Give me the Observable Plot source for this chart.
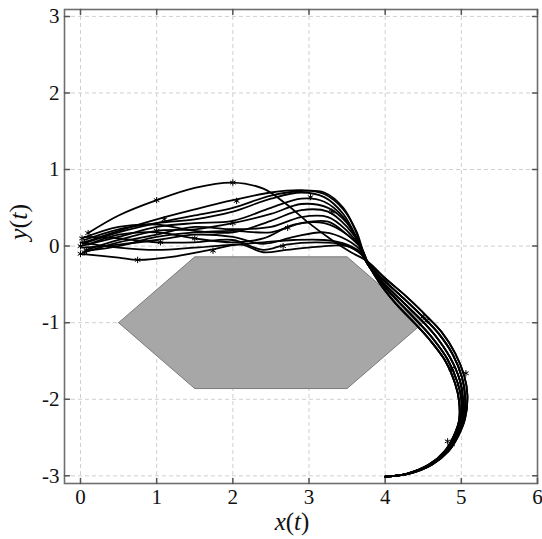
<!DOCTYPE html>
<html><head><meta charset="utf-8">
<script src="https://cdn.jsdelivr.net/npm/d3@7"></script>
<script src="https://cdn.jsdelivr.net/npm/@observablehq/plot@0.6"></script>
<style>
body{margin:0;background:#fff}
svg{display:block}
</style>
</head><body><div id="chart"></div>
<script>
const xTicks = [0, 1, 2, 3, 4, 5, 6];
const yTicks = [-3, -2, -1, 0, 1, 2, 3];
const xDomain = [-0.21, 6.0];
const yDomain = [-3.1, 3.09];

const obstacle = [[0.5,-1],[1.5,-0.14],[3.5,-0.14],[4.5,-1],[3.5,-1.86],[1.5,-1.86],[0.5,-1]];

// left / upper parts of the trajectories (start -> convergence point)
const head1  = [[0.1,0.17],[0.5,0.4],[1.0,0.6],[1.5,0.76],[2.0,0.83],[2.4,0.75],[2.7,0.55],[3.0,0.3],[3.3,0.08],[3.55,-0.08],[3.76,-0.22]];
const head2  = [[0.05,0.05],[0.5,0.2],[1.0,0.35],[1.5,0.48],[2.0,0.6],[2.5,0.7],[2.9,0.73],[3.2,0.68],[3.45,0.48],[3.62,0.2],[3.76,-0.2]];
const head3  = [[0.05,0.08],[0.5,0.22],[1.0,0.3],[1.5,0.35],[2.0,0.45],[2.5,0.62],[2.9,0.7],[3.2,0.64],[3.45,0.42],[3.62,0.12],[3.76,-0.2]];
const head4  = [[0.0,0.0],[0.5,0.12],[1.0,0.25],[1.5,0.3],[2.0,0.33],[2.5,0.5],[2.9,0.62],[3.2,0.58],[3.45,0.38],[3.63,0.08],[3.76,-0.22]];
const head5  = [[0.08,-0.05],[0.5,0.08],[1.0,0.2],[1.5,0.22],[2.0,0.3],[2.5,0.42],[2.9,0.55],[3.25,0.5],[3.5,0.3],[3.65,0.05],[3.76,-0.22]];
const head6  = [[0.02,0.1],[0.5,0.25],[1.0,0.28],[1.5,0.2],[2.0,0.18],[2.5,0.33],[2.9,0.47],[3.25,0.45],[3.5,0.25],[3.68,0.0],[3.76,-0.2]];
const head7  = [[0.05,-0.08],[0.5,0.05],[1.0,0.15],[1.5,0.25],[2.0,0.22],[2.5,0.25],[2.9,0.38],[3.25,0.38],[3.5,0.2],[3.68,-0.02],[3.77,-0.22]];
const head8  = [[0.1,0.02],[0.5,0.15],[1.0,0.18],[1.5,0.1],[2.0,0.05],[2.4,0.1],[2.8,0.28],[3.2,0.3],[3.5,0.15],[3.7,-0.05],[3.77,-0.2]];
const head9  = [[0.02,-0.02],[0.5,0.02],[1.0,0.08],[1.5,0.15],[2.0,0.12],[2.4,0.03],[2.8,0.12],[3.2,0.18],[3.5,0.08],[3.7,-0.08],[3.78,-0.22]];
const head10 = [[0.05,0.12],[0.5,0.1],[1.0,0.05],[1.5,0.05],[2.0,0.08],[2.4,-0.05],[2.7,0.02],[3.1,0.05],[3.45,0.02],[3.68,-0.1],[3.78,-0.2]];
const head11 = [[0.0,-0.1],[0.5,-0.15],[0.75,-0.18],[1.2,-0.14],[1.7,-0.05],[2.1,0.02],[2.4,-0.08],[2.7,-0.05],[3.1,-0.01],[3.5,0.0],[3.7,-0.12],[3.78,-0.22]];
const head12 = [[0.0,0.05],[0.5,-0.02],[1.0,-0.05],[1.5,-0.02],[2.0,0.02],[2.4,0.05],[2.8,0.08],[3.2,0.08],[3.5,0.02],[3.72,-0.12],[3.78,-0.2]];
const head13 = [[0.03,0.03],[0.5,0.18],[1.0,0.3],[1.5,0.4],[2.0,0.5],[2.5,0.66],[2.9,0.72],[3.2,0.7],[3.45,0.5],[3.62,0.18],[3.76,-0.2]];
const head14 = [[0.1,-0.06],[0.5,0.0],[1.0,0.12],[1.5,0.18],[2.0,0.2],[2.5,0.18],[2.9,0.3],[3.25,0.32],[3.5,0.15],[3.7,-0.05],[3.77,-0.22]];

// right / lower parts (convergence point -> goal at (4,-3))
const tail1 = [[3.77,-0.2],[4.0,-0.42],[4.28,-0.66],[4.55,-0.92],[4.74,-1.12],[4.92,-1.4],[5.04,-1.7],[5.08,-1.95],[5.05,-2.25],[4.96,-2.48],[4.83,-2.68],[4.62,-2.85],[4.32,-2.97],[4.0,-3.01]];
const tail2 = [[3.76,-0.21],[3.98,-0.44],[4.24,-0.68],[4.52,-0.95],[4.7,-1.14],[4.89,-1.42],[5.01,-1.72],[5.05,-1.97],[5.03,-2.26],[4.95,-2.48],[4.82,-2.68],[4.61,-2.85],[4.31,-2.97],[4.0,-3.01]];
const tail3 = [[3.76,-0.22],[3.96,-0.46],[4.2,-0.7],[4.48,-0.97],[4.66,-1.17],[4.85,-1.45],[4.98,-1.75],[5.02,-1.98],[5.01,-2.27],[4.93,-2.48],[4.8,-2.68],[4.6,-2.85],[4.3,-2.97],[4.0,-3.01]];
const tail4 = [[3.77,-0.23],[3.95,-0.48],[4.17,-0.72],[4.44,-1.0],[4.62,-1.2],[4.82,-1.48],[4.95,-1.78],[5.0,-2.0],[4.99,-2.27],[4.92,-2.48],[4.79,-2.68],[4.59,-2.85],[4.3,-2.97],[4.0,-3.01]];
const tail5 = [[3.78,-0.24],[3.94,-0.5],[4.14,-0.75],[4.41,-1.03],[4.59,-1.23],[4.79,-1.5],[4.92,-1.8],[4.97,-2.02],[4.97,-2.28],[4.9,-2.48],[4.78,-2.68],[4.58,-2.85],[4.29,-2.97],[4.0,-3.01]];

const heads = [head1, head2, head3, head4, head5, head6, head7, head8, head9, head10, head11, head12, head13, head14];
const tails = [tail1, tail2, tail3, tail4, tail5];
const tailOf = [0, 0, 1, 1, 2, 2, 3, 3, 4, 2, 4, 3, 1, 4];

const markers = [[0.1,0.17],[1.0,0.6],[2.0,0.83],[1.1,0.35],[2.05,0.59],[3.02,0.64],[0.75,-0.18],[2.72,0.24],[1.74,-0.06],[2.66,0.0],
  [0.05,0.05],[0.0,0.0],[0.02,0.1],[0.05,-0.08],[0.08,-0.05],[0.0,-0.1],[1.0,0.2],[1.5,0.1],[2.0,0.3],[1.05,0.05],
  [4.5,-0.92],[4.55,-0.97],[4.87,-1.6],[5.06,-1.66],[4.82,-2.55],[4.88,-2.59],[3.3,0.45]];

const rows = [];
heads.forEach((h, i) => {
  const pts = h.slice(0, -1).concat(tails[tailOf[i]]);
  pts.forEach(([x, y]) => rows.push({id: i, x, y}));
});

const tickShape = {draw(ctx, l) { ctx.moveTo(0, 0); ctx.lineTo(0, -l); }};
const fmt = d => d < 0 ? "-" + (-d) : String(d);
const serif = "Liberation Serif";

const chart = Plot.plot({
  width: 542, height: 539,
  marginLeft: 64, marginRight: 5, marginTop: 9, marginBottom: 56,
  style: {fontSize: "21px", background: "#fff", color: "#111"},
  x: {domain: xDomain, ticks: xTicks, tickFormat: fmt},
  y: {domain: yDomain, ticks: yTicks, tickFormat: fmt},
  marks: [
    Plot.gridX(xTicks, {stroke: "#cfcfcf", strokeOpacity: 1, strokeDasharray: "4,3"}),
    Plot.gridY(yTicks, {stroke: "#cfcfcf", strokeOpacity: 1, strokeDasharray: "4,3"}),
    Plot.line(obstacle, {x: d => d[0], y: d => d[1], fill: "#a7a7a7", stroke: "#7a7a7a", strokeWidth: 1}),
    Plot.line(rows, {x: "x", y: "y", z: "id", curve: "catmull-rom", stroke: "#000", strokeWidth: 1.8}),
    Plot.dot(markers, {x: d => d[0], y: d => d[1], symbol: "asterisk", r: 3, stroke: "#000", strokeWidth: 1}),
    Plot.frame({stroke: "#6e6e6e", strokeWidth: 1.6}),
    Plot.vector(xTicks, {x: d => d, frameAnchor: "bottom", rotate: 0, length: 5, anchor: "start", shape: tickShape, stroke: "#555"}),
    Plot.vector(xTicks, {x: d => d, frameAnchor: "top", rotate: 180, length: 5, anchor: "start", shape: tickShape, stroke: "#555"}),
    Plot.vector(yTicks, {y: d => d, frameAnchor: "left", rotate: 90, length: 5, anchor: "start", shape: tickShape, stroke: "#555"}),
    Plot.vector(yTicks, {y: d => d, frameAnchor: "right", rotate: -90, length: 5, anchor: "start", shape: tickShape, stroke: "#555"}),
    Plot.axisX(xTicks, {tickSize: 0, tickPadding: 6, label: null, tickFormat: fmt, fontSize: 21}),
    Plot.axisY(yTicks, {tickSize: 0, tickPadding: 5, label: null, tickFormat: fmt, fontSize: 21})
  ]
});
document.getElementById("chart").appendChild(chart);

const svg = d3.select(chart);
svg.selectAll("text").attr("font-family", serif).style("font-family", serif);

// axis titles with italic math letters
const xl = svg.append("text").attr("x", 292).attr("y", 530).attr("text-anchor", "middle")
  .attr("font-family", serif).style("font-family", serif).attr("font-size", 25).attr("fill", "#111");
xl.append("tspan").attr("font-style", "italic").text("x");
xl.append("tspan").text("(");
xl.append("tspan").attr("font-style", "italic").text("t");
xl.append("tspan").text(")");
const yl = svg.append("text").attr("transform", "translate(27,222) rotate(-90)").attr("text-anchor", "middle")
  .attr("font-family", serif).style("font-family", serif).attr("font-size", 26).attr("fill", "#111");
yl.append("tspan").attr("font-style", "italic").text("y");
yl.append("tspan").text("(");
yl.append("tspan").attr("font-style", "italic").text("t");
yl.append("tspan").text(")");
</script></body></html>
